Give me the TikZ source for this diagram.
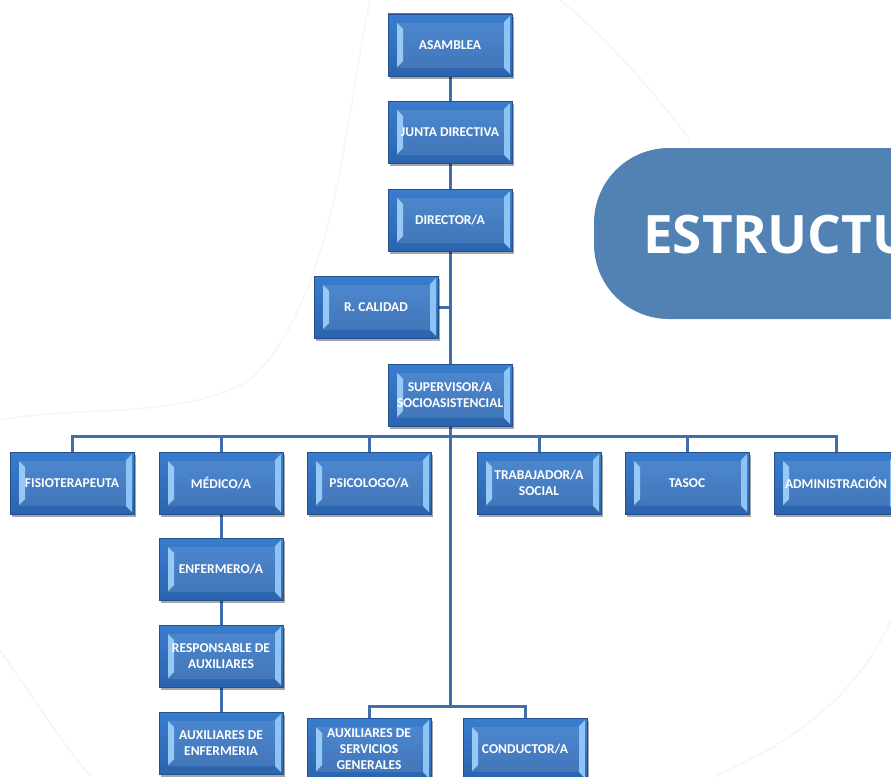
\documentclass[tikz,border=0pt]{standalone}
\usepackage{fontspec}
\setmainfont{Carlito}
\newfontfamily\titlefont{Open Sans}
\usetikzlibrary{calc,shadows}
\pgfdeclarelayer{bg}
\pgfsetlayers{bg,main}
\definecolor{boxtop}{HTML}{3A7DCD}
\definecolor{boxbot}{HTML}{2B64AE}
\definecolor{boxedge}{HTML}{23518F}
\definecolor{bevel}{HTML}{8DC3F5}
\definecolor{linkblue}{HTML}{3F6FAE}
\definecolor{titleblue}{HTML}{5282B4}
\definecolor{faint}{HTML}{F5F5F5}
\tikzset{
  orgbox/.style={rectangle, minimum width=124pt, minimum height=62pt, inner sep=1pt,
    top color=boxtop, bottom color=boxbot, draw=boxedge, line width=0.6pt,
    text=white, align=center, font=\bfseries\fontsize{13.5}{16}\selectfont,
    drop shadow={shadow xshift=2pt, shadow yshift=-3pt, opacity=0.35, fill=black},
    path picture={
      \coordinate (nw) at (path picture bounding box.north west);
      \coordinate (se) at (path picture bounding box.south east);
      \fill[bevel] ($(nw)+(9pt,-9pt)$) -- ($(nw)+(15pt,-15pt)$) -- ($(nw|-se)+(15pt,15pt)$) -- ($(nw|-se)+(9pt,9pt)$) -- cycle;
      \fill[bevel] ($(se|-nw)+(-8pt,-8pt)$) -- ($(se|-nw)+(-2pt,-2pt)$) -- ($(se)+(-2pt,2pt)$) -- ($(se)+(-8pt,8pt)$) -- cycle;
      \fill[white,opacity=0.10] ($(nw)+(9pt,-9pt)$) rectangle ($(se)+(-8pt,8pt)$);
    }},
  link/.style={draw=linkblue, line width=3pt},
  faintline/.style={draw=faint, line width=1.5pt}
}
\begin{document}
\begin{tikzpicture}[x=1pt,y=-1pt]
\useasboundingbox (0,0) rectangle (891,776);
\clip (0,0) rectangle (891,776);
% faint background arcs
\draw[faintline] (370,0) .. controls (345,120) and (335,300) .. (250,380) .. controls (180,420) and (80,405) .. (0,420);
\draw[faintline] (560,0) .. controls (610,40) and (660,100) .. (690,140);
\draw[faintline] (891,620) .. controls (860,690) and (800,740) .. (715,776);
\draw[faintline] (0,650) .. controls (35,700) and (60,740) .. (90,776);
% title shape
\fill[titleblue, rounded corners=75pt] (594,148) rectangle (1000,319);
\node[anchor=base west, inner sep=0pt, text=white, font=\titlefont\bfseries\fontsize{53}{60}\selectfont] (title) at (643,253) {ESTRUCTURA};
% nodes
\node[orgbox] (asam) at (450,45) {ASAMBLEA};
\node[orgbox] (junta) at (450,132) {JUNTA DIRECTIVA};
\node[orgbox] (dir) at (450,220) {DIRECTOR/A};
\node[orgbox] (rcal) at (376,307) {R. CALIDAD};
\node[orgbox] (sup) at (450,395) {SUPERVISOR/A\\SOCIOASISTENCIAL};
\node[orgbox] (fis) at (72,483) {FISIOTERAPEUTA};
\node[orgbox] (med) at (221,483) {MÉDICO/A};
\node[orgbox] (psi) at (369,483) {PSICOLOGO/A};
\node[orgbox] (trab) at (539,483) {TRABAJADOR/A\\SOCIAL};
\node[orgbox] (tasoc) at (687,483) {TASOC};
\node[orgbox] (adm) at (836,483) {ADMINISTRACIÓN};
\node[orgbox] (enf) at (221,569) {ENFERMERO/A};
\node[orgbox] (resp) at (221,656) {RESPONSABLE DE\\AUXILIARES};
\node[orgbox] (auxe) at (221,743) {AUXILIARES DE\\ENFERMERIA};
\node[orgbox] (auxs) at (369,749) {AUXILIARES DE\\SERVICIOS\\GENERALES};
\node[orgbox] (cond) at (525,749) {CONDUCTOR/A};
% connectors
\coordinate (bar) at (450,436);
\coordinate (j2) at (450,706);
\begin{pgfonlayer}{bg}
\draw[link] (asam.south) -- (junta.north);
\draw[link] (junta.south) -- (dir.north);
\draw[link] (dir.south) -- (sup.north);
\draw[link] (rcal.east) -- (rcal.east -| sup.north);
\draw[link] (sup.south) -- (j2);
\foreach \n in {fis,med,psi,trab,tasoc,adm} \draw[link] (bar) -| (\n.north);
\draw[link] (med.south) -- (enf.north);
\draw[link] (enf.south) -- (resp.north);
\draw[link] (resp.south) -- (auxe.north);
\draw[link] (j2) -| (auxs.north);
\draw[link] (j2) -| (cond.north);
\end{pgfonlayer}
\end{tikzpicture}
\end{document}
